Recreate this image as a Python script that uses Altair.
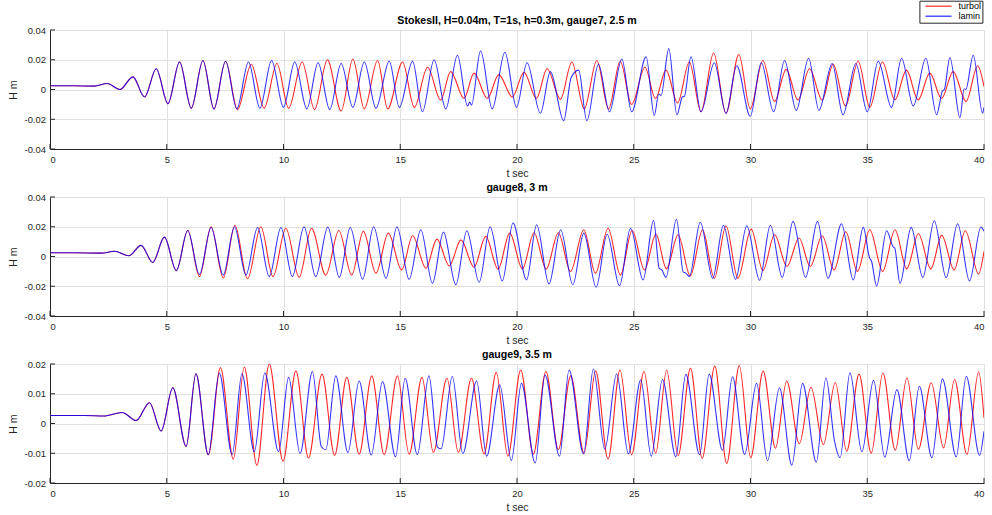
import altair as alt
import pandas as pd

# ---------------- data ----------------
SERIES = ["turbol", "lamin"]
COLORS = ["#ff0000", "#0000ff"]
X_TICKS = [0, 5, 10, 15, 20, 25, 30, 35, 40]
Y_TICKS_A = [-0.04, -0.02, 0, 0.02, 0.04]
Y_TICKS_B = [-0.02, -0.01, 0, 0.01, 0.02]
TITLES = ["StokesII, H=0.04m, T=1s, h=0.3m, gauge7, 2.5 m", "gauge8, 3 m", "gauge9, 3.5 m"]

# gauge7 -------------------------------------------------------------
g7_start_t = [0.0, 1.0, 1.9, 2.45, 3.0, 3.55, 4.05, 4.55, 5.05, 5.55, 6.05, 6.55, 7.02, 7.52]
g7_start_h = [0.0025, 0.0025, 0.0023, 0.004, 0.0, 0.0085, -0.005, 0.014, -0.0095, 0.0185, -0.0125, 0.0195, -0.013, 0.019]
g7_turbol_t = [8.03, 8.62, 9.17, 9.72, 10.22, 10.8, 11.33, 11.88, 12.47, 12.97,
               13.46, 14.03, 14.46, 15.1, 15.6, 16.17, 16.73, 17.16, 17.73, 18.16,
               18.73, 19.22, 19.8, 20.3, 20.83, 21.29, 21.86, 22.35, 22.88, 23.42,
               23.92, 24.42, 24.91, 25.48, 25.93, 26.38, 26.88, 27.38, 27.88, 28.42,
               28.95, 29.5, 29.99, 30.53, 31.03, 31.53, 32.03, 32.53, 33.07, 33.54,
               34.07, 34.61, 35.11, 35.65, 36.18, 36.68, 37.18, 37.68, 38.18, 38.68,
               39.23, 39.73, 40.0]
g7_turbol_h = [-0.0135, 0.017, -0.0125, 0.0175, -0.0125, 0.0185, -0.0135, 0.020, -0.0145, 0.0205,
               -0.013, 0.0195, -0.013, 0.0185, -0.012, 0.015, -0.007, 0.012, -0.006, 0.011,
               -0.006, 0.010, -0.005, 0.0115, -0.006, 0.014, -0.0065, 0.0185, -0.013, 0.0195,
               -0.013, 0.019, -0.010, 0.015, -0.006, 0.013, -0.009, 0.0185, -0.015, 0.0245,
               -0.016, 0.0235, -0.013, 0.0195, -0.008, 0.0135, -0.007, 0.014, -0.007, 0.017,
               -0.011, 0.019, -0.012, 0.0185, -0.007, 0.013, -0.007, 0.011, -0.006, 0.012,
               -0.008, 0.016, 0.002]
g7_lamin_t = [8.0, 8.5, 8.99, 9.49, 10.0, 10.48, 11.0, 11.48, 11.98, 12.47,
              12.97, 13.46, 13.96, 14.53, 14.96, 15.53, 15.95, 16.45, 16.95, 17.45,
              17.88, 17.98, 18.05, 18.44, 18.94, 19.48, 19.98, 20.43, 21.0, 21.43,
              22.0, 22.32, 22.64, 22.99, 23.49, 23.96, 24.49, 24.91, 25.53, 25.88,
              26.07, 26.17, 26.5, 26.85, 27.08, 27.17, 27.45, 27.88, 28.45, 28.95,
              29.41, 29.99, 30.46, 30.99, 31.46, 31.96, 32.49, 32.93, 33.5, 33.96,
              34.51, 35.0, 35.47, 36.04, 36.47, 36.97, 37.51, 37.97, 38.22, 38.3,
              38.54, 38.97, 39.15, 39.22, 39.54, 39.94, 40.0]
g7_lamin_h = [-0.013, 0.0185, -0.0125, 0.0195, -0.012, 0.0185, -0.013, 0.018, -0.0135, 0.0175,
              -0.012, 0.0185, -0.0125, 0.019, -0.012, 0.019, -0.015, 0.020, -0.013, 0.023,
              -0.011, -0.0085, -0.0105, 0.026, -0.013, 0.025, -0.012, 0.018, -0.016, 0.012,
              -0.021, 0.008, 0.013, -0.021, 0.017, -0.015, 0.0205, -0.015, 0.022, -0.0175,
              -0.003, -0.004, 0.0275, -0.017, -0.005, -0.0045, 0.022, -0.015, 0.018, -0.016,
              0.016, -0.018, 0.018, -0.015, 0.0195, -0.014, 0.021, -0.014, 0.0175, -0.017,
              0.0175, -0.015, 0.019, -0.012, 0.021, -0.011, 0.021, -0.017, -0.001, 0.0,
              0.0215, -0.019, 0.0005, 0.0, 0.023, -0.016, -0.012]

# gauge8 -------------------------------------------------------------
g8_start_t = [0.0, 1.0, 2.2, 2.76, 3.38, 3.9, 4.4, 4.9, 5.41, 5.9]
g8_start_h = [0.0025, 0.0025, 0.0023, 0.0035, 0.0005, 0.0075, -0.004, 0.013, -0.0095, 0.0175]
g8_turbol_t = [6.4, 6.9, 7.42, 7.92, 8.46, 9.03, 9.55, 10.1, 10.67, 11.2,
               11.81, 12.37, 12.92, 13.42, 13.96, 14.49, 15.06, 15.53, 16.1, 16.57,
               17.1, 17.6, 18.16, 18.66, 19.19, 19.69, 20.23, 20.73, 21.25, 21.77,
               22.29, 22.86, 23.36, 23.9, 24.43, 24.93, 25.46, 25.95, 26.4, 26.9,
               27.42, 27.95, 28.45, 28.95, 29.46, 30.03, 30.53, 31.03, 31.56, 32.08,
               32.56, 33.07, 33.58, 34.08, 34.58, 35.11, 35.66, 36.19, 36.69, 37.19,
               37.72, 38.19, 38.72, 39.2, 39.77, 40.0]
g8_turbol_h = [-0.0135, 0.020, -0.0145, 0.021, -0.015, 0.020, -0.0135, 0.019, -0.014, 0.019,
               -0.0125, 0.0175, -0.0124, 0.0169, -0.0112, 0.0157, -0.009, 0.014, -0.0079, 0.0117,
               -0.0063, 0.0112, -0.0072, 0.0135, -0.0085, 0.0157, -0.0083, 0.016, -0.0085, 0.016,
               -0.010, 0.018, -0.0112, 0.019, -0.0124, 0.0175, -0.009, 0.015, -0.0083, 0.0146,
               -0.013, 0.018, -0.0146, 0.0207, -0.0146, 0.0184, -0.0094, 0.0146, -0.0067, 0.0124,
               -0.0067, 0.014, -0.009, 0.0166, -0.010, 0.018, -0.010, 0.018, -0.0083, 0.0153,
               -0.0083, 0.0142, -0.009, 0.0173, -0.0117, 0.0034]
g8_lamin_t = [6.4, 6.9, 7.42, 7.9, 8.39, 8.89, 9.39, 9.89, 10.38, 10.88,
              11.38, 11.9, 12.39, 12.86, 13.39, 13.86, 14.39, 14.86, 15.38, 15.88,
              16.38, 16.85, 17.38, 17.85, 18.38, 18.85, 19.37, 19.83, 20.41, 20.84,
              21.37, 21.87, 22.39, 22.86, 23.39, 23.86, 24.39, 24.86, 25.4, 25.85,
              26.09, 26.2, 26.38, 26.83, 27.12, 27.22, 27.38, 27.85, 28.38, 28.84,
              29.36, 29.84, 30.39, 30.85, 31.36, 31.82, 32.36, 32.87, 33.32, 33.9,
              34.4, 34.83, 35.1, 35.18, 35.4, 35.83, 36.1, 36.18, 36.4, 36.88,
              37.38, 37.87, 38.38, 38.87, 39.38, 39.87, 40.0]
g8_lamin_h = [-0.012, 0.0195, -0.0125, 0.020, -0.0125, 0.0195, -0.0135, 0.0195, -0.0135, 0.020,
              -0.0135, 0.0198, -0.014, 0.0195, -0.0153, 0.020, -0.0146, 0.020, -0.0153, 0.018,
              -0.018, 0.0164, -0.019, 0.0173, -0.0173, 0.020, -0.0164, 0.0225, -0.0157, 0.0213,
              -0.0184, 0.018, -0.019, 0.0157, -0.0207, 0.015, -0.0196, 0.019, -0.0157, 0.0243,
              -0.008, -0.009, -0.014, 0.025, -0.0105, -0.011, -0.0135, 0.023, -0.0146, 0.021,
              -0.0153, 0.0207, -0.016, 0.021, -0.014, 0.0236, -0.014, 0.0236, -0.0146, 0.022,
              -0.0157, 0.0196, -0.001, -0.003, -0.0198, 0.0173, 0.0067, 0.0055, -0.018, 0.0196,
              -0.014, 0.024, -0.0142, 0.022, -0.0164, 0.0198, 0.017]

# gauge9 -------------------------------------------------------------
g9_start_t = [0.0, 1.5, 2.3, 3.09, 3.69, 4.26, 4.76, 5.26, 5.83, 6.25, 6.78]
g9_start_h = [0.0027, 0.0027, 0.0025, 0.0037, 0.001, 0.007, -0.0025, 0.012, -0.0077, 0.0167, -0.0105]
g9_turbol_t = [7.3, 7.85, 8.32, 8.86, 9.39, 9.98, 10.53, 11.07, 11.65, 12.19,
               12.71, 13.24, 13.78, 14.31, 14.88, 15.38, 15.93, 16.42, 17.0, 17.49,
               18.05, 18.59, 19.11, 19.61, 20.16, 20.7, 21.24, 21.77, 22.3, 22.87,
               23.37, 23.9, 24.41, 24.91, 25.44, 25.94, 26.41, 26.9, 27.43, 27.93,
               28.47, 28.98, 29.52, 30.01, 30.54, 31.07, 31.55, 32.09, 32.59, 33.12,
               33.63, 34.12, 34.65, 35.17, 35.67, 36.2, 36.7, 37.19, 37.74, 38.27,
               38.74, 39.27, 39.77, 40.0]
g9_turbol_h = [0.0188, -0.012, 0.019, -0.014, 0.020, -0.0127, 0.0177, -0.0116, 0.0166, -0.0107,
               0.0155, -0.0103, 0.016, -0.0105, 0.016, -0.0103, 0.0155, -0.0097, 0.0152, -0.0097,
               0.0152, -0.0102, 0.0172, -0.0109, 0.018, -0.0103, 0.0175, -0.0088, 0.016, -0.010,
               0.0177, -0.012, 0.018, -0.0105, 0.0175, -0.010, 0.018, -0.0108, 0.0186, -0.0117,
               0.0193, -0.0134, 0.0195, -0.0115, 0.0176, -0.0083, 0.0143, -0.0068, 0.0122, -0.0071,
               0.0138, -0.0093, 0.0166, -0.010, 0.017, -0.009, 0.0153, -0.0087, 0.0137, -0.0082,
               0.0148, -0.0104, 0.0174, 0.0019]
g9_lamin_t = [7.25, 7.8, 8.22, 8.75, 9.2, 9.79, 10.22, 10.71, 11.24, 11.62,
              11.81, 12.24, 12.76, 13.24, 13.76, 14.24, 14.8, 15.21, 15.73, 16.23,
              16.6, 16.75, 17.23, 17.68, 18.27, 18.7, 19.26, 19.76, 20.19, 20.78,
              21.2, 21.82, 22.23, 22.85, 23.27, 23.76, 24.27, 24.77, 25.3, 25.75,
              26.23, 26.8, 27.23, 27.82, 28.23, 28.8, 29.23, 29.75, 30.26, 30.73,
              31.24, 31.77, 32.23, 32.82, 33.23, 33.6, 33.84, 34.26, 34.77, 35.27,
              35.75, 36.27, 36.8, 37.23, 37.77, 38.22, 38.81, 39.24, 39.81, 40.0]
g9_lamin_h = [0.017, -0.0105, 0.0167, -0.0095, 0.017, -0.0095, 0.0155, -0.0101, 0.0175, -0.0078,
              -0.0088, 0.016, -0.0098, 0.0143, -0.0106, 0.0141, -0.0112, 0.0152, -0.0105, 0.016,
              -0.008, -0.0085, 0.0158, -0.0101, 0.0143, -0.011, 0.013, -0.0124, 0.0135, -0.0133,
              0.0163, -0.011, 0.018, -0.0102, 0.0183, -0.0086, 0.0167, -0.0102, 0.0147, -0.011,
              0.0148, -0.0112, 0.0165, -0.0105, 0.0166, -0.009, 0.0157, -0.0104, 0.0135, -0.0125,
              0.012, -0.014, 0.0135, -0.013, 0.0153, -0.006, -0.0115, 0.017, -0.0095, 0.0145,
              -0.0113, 0.0114, -0.0125, 0.0125, -0.0115, 0.015, -0.0112, 0.0159, -0.0107, -0.0026]

# ---------------- styling ----------------
FONT = "Liberation Sans"
W, H = 934, 119
AXIS_COLOR = "#262626"
GRID_COLOR = "#e0e0e0"

Y_LABEL_EXPR = ("datum.value == 0 ? '0' : (datum.value < 0 ? '-' : '') + "
                "format(abs(datum.value), '.2f')")

LEGEND = alt.Legend(title=None, orient="none", legendX=869.4, legendY=-29.3,
                    direction="vertical", symbolType="M-3.71,0L3.71,0", symbolSize=49,
                    symbolStrokeWidth=1.2, symbolOffset=13.6, labelOffset=15.6,
                    labelFontSize=9, labelFont=FONT, labelColor="#000000",
                    padding=1, rowPadding=0, strokeColor=AXIS_COLOR,
                    fillColor="#ffffff", cornerRadius=0)


def panel(title, rt, rh, bt, bh, ydom, yticks):
    red_df = pd.DataFrame({"t": rt, "h": rh, "series": SERIES[0]})
    blue_df = pd.DataFrame({"t": bt, "h": bh, "series": SERIES[1]})
    xt_df = pd.DataFrame({"t": X_TICKS})
    yt_df = pd.DataFrame({"h": yticks})

    x = alt.X("t:Q", scale=alt.Scale(domain=[0, 40], nice=False, zero=False),
              axis=alt.Axis(values=X_TICKS, title="t sec", format="d", ticks=False, tickSize=0,
                            labelPadding=6.7, titlePadding=4.5, titleFontWeight="normal"))
    y = alt.Y("h:Q", scale=alt.Scale(domain=ydom, nice=False, zero=False),
              axis=alt.Axis(values=yticks, title="H m", labelExpr=Y_LABEL_EXPR, ticks=False,
                            tickSize=0, labelPadding=4.6, titlePadding=6,
                            titleFontWeight="normal"))
    color = alt.Color("series:N", scale=alt.Scale(domain=SERIES, range=COLORS), legend=LEGEND)

    red = alt.Chart(red_df).mark_line(interpolate="monotone", strokeWidth=1.1, opacity=0.85,
                                      clip=True).encode(x=x, y=y, color=color)
    blue = alt.Chart(blue_df).mark_line(interpolate="monotone", strokeWidth=1.1, opacity=0.8,
                                        clip=True).encode(x=x, y=y, color=color)
    xt = alt.Chart(xt_df).mark_rule(color=AXIS_COLOR, strokeWidth=1).encode(
        x=x, y=alt.value(H), y2=alt.value(H - 5))
    yt = alt.Chart(yt_df).mark_rule(color=AXIS_COLOR, strokeWidth=1).encode(
        y=y, x=alt.value(0), x2=alt.value(5))

    return alt.layer(red, blue, xt, yt).properties(
        width=W, height=H,
        title=alt.TitleParams(title, fontSize=10.6, fontWeight="bold", font=FONT,
                              color="#000000", offset=-1.5, anchor="middle"))


p1 = panel(TITLES[0], g7_start_t + g7_turbol_t, g7_start_h + g7_turbol_h,
           g7_start_t + g7_lamin_t, g7_start_h + g7_lamin_h, [-0.04, 0.04], Y_TICKS_A)
p2 = panel(TITLES[1], g8_start_t + g8_turbol_t, g8_start_h + g8_turbol_h,
           g8_start_t + g8_lamin_t, g8_start_h + g8_lamin_h, [-0.04, 0.04], Y_TICKS_A)
p3 = panel(TITLES[2], g9_start_t + g9_turbol_t, g9_start_h + g9_turbol_h,
           g9_start_t + g9_lamin_t, g9_start_h + g9_lamin_h, [-0.02, 0.02], Y_TICKS_B)

chart = alt.vconcat(p1, p2, p3, spacing=2.0).properties(
    padding={"left": 8, "top": 0, "right": 0, "bottom": 0},
    background="white"
).configure_view(strokeWidth=0).configure_axis(
    labelFont=FONT, labelFontSize=9.4, labelColor=AXIS_COLOR,
    titleFont=FONT, titleFontSize=10.5, titleColor=AXIS_COLOR, titleFontWeight="normal",
    domainColor=AXIS_COLOR, domainWidth=1, gridColor=GRID_COLOR, gridWidth=1, grid=True
)

chart.save("out.html", embed_options={"renderer": "svg", "actions": False})
